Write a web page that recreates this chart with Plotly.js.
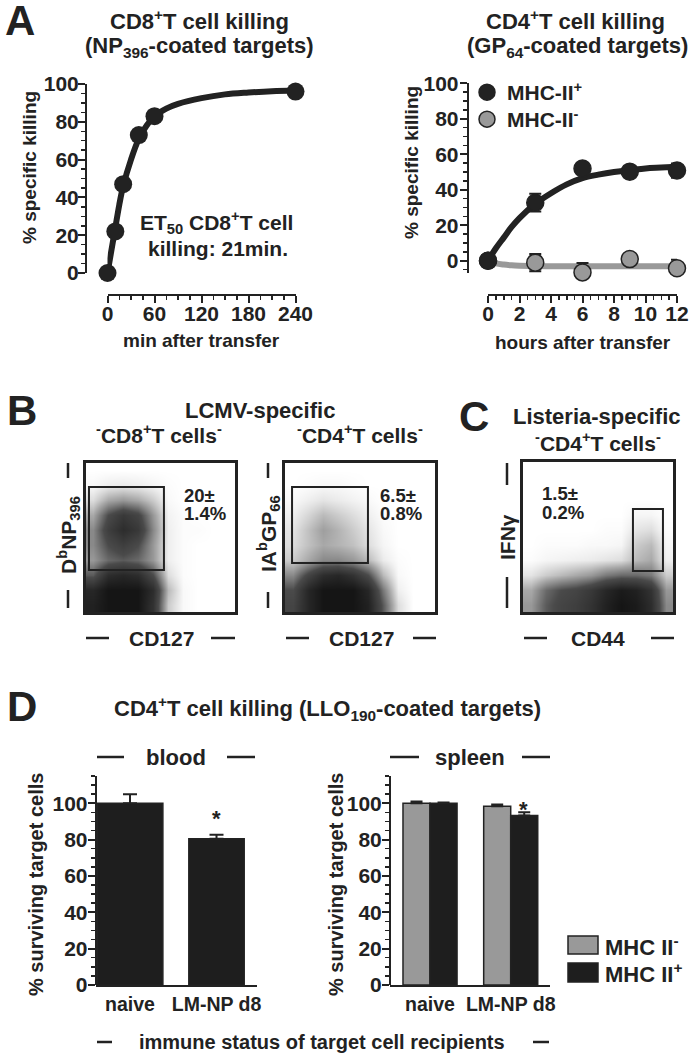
<!DOCTYPE html>
<html><head><meta charset="utf-8">
<script src="https://cdn.plot.ly/plotly-3.0.1.min.js"></script>
<style>html,body{margin:0;padding:0;background:#fff}#chart{width:692px;height:1057px}</style>
</head><body><div id="chart"></div>
<script>
// ---------------- DATA ----------------
// Panel A (left): CD8+ T cell killing, NP396-coated targets
const cd8Minutes = [0, 10, 20, 40, 60, 240];
const cd8Killing = [0, 22, 47, 73, 83, 96];
const cd8FitMinutes = [0, 5, 10, 15, 20, 30, 40, 50, 60, 75, 90, 120, 150, 180, 210, 240];
const cd8FitKilling = [0, 12, 24, 36, 46, 60, 71, 78, 83, 87, 89.5, 92.5, 94.5, 95.5, 96.2, 96.5];

// Panel A (right): CD4+ T cell killing, GP64-coated targets
const cd4Hours = [0, 3, 6, 9, 12];
const mhcPosKilling = [0, 32.7, 52, 50.2, 50.8];
const mhcPosErr = [0, 5, 0, 0, 4];
const mhcNegKilling = [0, -1.1, -6.6, 0.9, -4.3];
const mhcNegErr = [0, 4.8, 5.3, 0, 4.8];
const fitHours = [0, 0.5, 1, 1.5, 2, 3, 4, 5, 6, 7, 8, 9, 10, 11, 12];
const mhcPosFit = [0, 7, 13, 19, 24, 32, 38, 43, 46.5, 48.5, 50, 51, 52, 52.5, 53];
const mhcNegFit = [0, -1.5, -2.2, -2.6, -2.8, -3, -3.1, -3.2, -3.2, -3.2, -3.2, -3.2, -3.2, -3.2, -3.2];

// Panels B/C: flow cytometry dot density (rows bottom -> top, 10 x 10 bins)
const flowBins = [0.05, 0.15, 0.25, 0.35, 0.45, 0.55, 0.65, 0.75, 0.85, 0.95];
const cd8Density = [
  [0.9, 1, 1, 1, 0.75, 0.15, 0.02, 0, 0, 0],
  [0.85, 1, 1, 1, 0.8, 0.2, 0.02, 0, 0, 0],
  [0.5, 0.8, 0.85, 0.8, 0.55, 0.1, 0.01, 0, 0, 0],
  [0.3, 0.45, 0.5, 0.45, 0.3, 0.05, 0.01, 0, 0, 0],
  [0.35, 0.55, 0.65, 0.55, 0.3, 0.05, 0.01, 0, 0, 0],
  [0.35, 0.65, 0.8, 0.7, 0.35, 0.05, 0.01, 0.01, 0, 0],
  [0.25, 0.55, 0.7, 0.6, 0.3, 0.04, 0.01, 0, 0, 0],
  [0.1, 0.25, 0.3, 0.25, 0.15, 0.02, 0, 0, 0, 0],
  [0.02, 0.05, 0.06, 0.05, 0.03, 0.01, 0, 0, 0, 0],
  [0, 0, 0, 0, 0, 0, 0, 0, 0, 0]
];
const cd4Density = [
  [0.6, 0.85, 1, 1, 1, 0.9, 0.5, 0.1, 0, 0],
  [0.55, 0.85, 1, 1, 1, 0.85, 0.4, 0.05, 0, 0],
  [0.35, 0.6, 0.8, 0.85, 0.75, 0.55, 0.2, 0.02, 0, 0],
  [0.15, 0.25, 0.35, 0.35, 0.3, 0.2, 0.06, 0.01, 0, 0],
  [0.1, 0.18, 0.25, 0.22, 0.18, 0.1, 0.03, 0, 0, 0],
  [0.08, 0.18, 0.28, 0.22, 0.15, 0.08, 0.02, 0, 0, 0],
  [0.05, 0.12, 0.2, 0.15, 0.1, 0.05, 0.01, 0, 0, 0],
  [0.02, 0.05, 0.08, 0.06, 0.04, 0.02, 0, 0, 0, 0],
  [0, 0.01, 0.02, 0.02, 0.01, 0, 0, 0, 0, 0],
  [0, 0, 0, 0, 0, 0, 0, 0, 0, 0]
];
const listeriaDensity = [
  [0.3, 0.5, 0.6, 0.65, 0.75, 0.9, 1, 0.95, 0.8, 0.35],
  [0.25, 0.45, 0.55, 0.6, 0.7, 0.85, 0.95, 0.9, 0.75, 0.3],
  [0.08, 0.15, 0.2, 0.25, 0.3, 0.4, 0.45, 0.45, 0.4, 0.15],
  [0.01, 0.03, 0.04, 0.05, 0.06, 0.08, 0.1, 0.2, 0.25, 0.05],
  [0, 0.01, 0.01, 0.01, 0.02, 0.02, 0.03, 0.15, 0.2, 0.03],
  [0, 0, 0, 0, 0, 0.01, 0.01, 0.08, 0.1, 0.01],
  [0, 0, 0, 0, 0, 0, 0, 0.03, 0.03, 0],
  [0, 0, 0, 0, 0, 0, 0, 0, 0, 0],
  [0, 0, 0, 0, 0, 0, 0, 0, 0, 0],
  [0, 0, 0, 0, 0, 0, 0, 0, 0, 0]
];
// gates [x0, x1, y0, y1] in fraction of each plot
const cd8Gate = [0.02, 0.523, 0.282, 0.839];
const cd4Gate = [0.047, 0.553, 0.329, 0.839];
const listeriaGate = [0.733, 0.933, 0.273, 0.687];
const cd8Percent = ['20±', '1.4%'];
const cd4Percent = ['6.5±', '0.8%'];
const listeriaPercent = ['1.5±', '0.2%'];

// Panel D: % surviving target cells
const barCategories = ['naive', 'LM-NP d8'];
const bloodSurviving = [100, 80.5];
const bloodErr = [5, 2.2];
const spleenMhcNeg = [100, 98.4];
const spleenMhcNegErr = [1, 0.9];
const spleenMhcPos = [100, 93.2];
const spleenMhcPosErr = [0.4, 1.8];

// ---------------- LAYOUT HELPERS ----------------
const W = 692, H = 1057;
const px = v => v / W, py = v => 1 - v / H;
const FAM = 'Liberation Sans, Arial, Helvetica, sans-serif';
const INK = '#222222';
const GREY = '#999999';
const font = (s) => ({family: FAM, size: s, color: INK, weight: 'bold'});

const axBase = {
  showgrid: false, zeroline: false, showline: true, linecolor: INK, linewidth: 2,
  ticks: 'outside', tickcolor: INK, tickwidth: 2, ticklen: 7, tickfont: font(21), fixedrange: true
};
const minorT = (d) => ({ticks: 'outside', dtick: d, ticklen: 4, tickwidth: 1.5, tickcolor: INK});
const boxAx = (dom, anchor) => ({
  domain: dom, range: [0, 1], anchor: anchor, showline: true, mirror: true, linewidth: 3,
  linecolor: INK, ticks: '', showticklabels: false, showgrid: false, zeroline: false, fixedrange: true
});

const flowScale = [[0, '#ffffff'], [0.04, '#f2f2f2'], [0.25, '#a8a8a8'], [0.55, '#4a4a4a'], [1, '#151515']];

// ---------------- TRACES ----------------
const traces = [
  // A left
  {type: 'scatter', mode: 'lines', x: cd8FitMinutes, y: cd8FitKilling, xaxis: 'x', yaxis: 'y',
   line: {color: INK, width: 6, shape: 'spline'}, showlegend: false, cliponaxis: false, hoverinfo: 'skip'},
  {type: 'scatter', mode: 'markers', x: cd8Minutes, y: cd8Killing, xaxis: 'x', yaxis: 'y',
   marker: {color: INK, size: 18}, showlegend: false, cliponaxis: false},
  // A right
  {type: 'scatter', mode: 'lines', x: fitHours, y: mhcNegFit, xaxis: 'x2', yaxis: 'y2',
   line: {color: GREY, width: 6, shape: 'spline'}, showlegend: false, cliponaxis: false, hoverinfo: 'skip'},
  {type: 'scatter', mode: 'lines', x: fitHours, y: mhcPosFit, xaxis: 'x2', yaxis: 'y2',
   line: {color: INK, width: 6, shape: 'spline'}, showlegend: false, cliponaxis: false, hoverinfo: 'skip'},
  {type: 'scatter', mode: 'markers', name: 'MHC-II<sup>-</sup>', x: cd4Hours, y: mhcNegKilling, xaxis: 'x2', yaxis: 'y2',
   marker: {color: GREY, size: 17, line: {color: INK, width: 1.5}}, legend: 'legend2', cliponaxis: false,
   error_y: {type: 'data', array: mhcNegErr, color: INK, thickness: 2, width: 6}},
  {type: 'scatter', mode: 'markers', name: 'MHC-II<sup>+</sup>', x: cd4Hours, y: mhcPosKilling, xaxis: 'x2', yaxis: 'y2',
   marker: {color: INK, size: 17, line: {color: INK, width: 1.5}}, legend: 'legend', cliponaxis: false,
   error_y: {type: 'data', array: mhcPosErr, color: INK, thickness: 2, width: 6}},
  // B / C flow plots
  {type: 'heatmap', x: flowBins, y: flowBins, z: cd8Density, xaxis: 'x3', yaxis: 'y3', zmin: 0, zmax: 1,
   colorscale: flowScale, showscale: false, zsmooth: 'best', hoverinfo: 'skip'},
  {type: 'heatmap', x: flowBins, y: flowBins, z: cd4Density, xaxis: 'x4', yaxis: 'y4', zmin: 0, zmax: 1,
   colorscale: flowScale, showscale: false, zsmooth: 'best', hoverinfo: 'skip'},
  {type: 'heatmap', x: flowBins, y: flowBins, z: listeriaDensity, xaxis: 'x5', yaxis: 'y5', zmin: 0, zmax: 1,
   colorscale: flowScale, showscale: false, zsmooth: 'best', hoverinfo: 'skip'},
  // D blood
  {type: 'bar', x: barCategories, y: bloodSurviving, xaxis: 'x6', yaxis: 'y6', width: [0.76, 0.64],
   marker: {color: '#1e1e1e', line: {color: INK, width: 1.5}}, showlegend: false,
   error_y: {type: 'data', array: bloodErr, arrayminus: [0, 0], symmetric: false, color: INK, thickness: 2, width: 7}},
  // D spleen
  {type: 'bar', name: 'MHC II-', x: barCategories, y: spleenMhcNeg, xaxis: 'x7', yaxis: 'y7',
   marker: {color: GREY, line: {color: INK, width: 1.5}}, showlegend: false,
   error_y: {type: 'data', array: spleenMhcNegErr, arrayminus: [0, 0], symmetric: false, color: INK, thickness: 2, width: 6}},
  {type: 'bar', name: 'MHC II+', x: barCategories, y: spleenMhcPos, xaxis: 'x7', yaxis: 'y7',
   marker: {color: '#1e1e1e', line: {color: INK, width: 1.5}}, showlegend: false,
   error_y: {type: 'data', array: spleenMhcPosErr, arrayminus: [0, 0], symmetric: false, color: INK, thickness: 2, width: 6}}
];

// ---------------- ANNOTATIONS ----------------
const ann = [];
function T(text, x, y, size, opts) {
  ann.push(Object.assign({text: text, x: px(x), y: py(y), xref: 'paper', yref: 'paper', showarrow: false,
    xanchor: 'center', yanchor: 'middle', font: font(size)}, opts || {}));
}
// panel letters
T('A', 20, 20, 42); T('B', 22, 410, 42); T('C', 474, 416, 42); T('D', 22, 706, 42);
// A
T('CD8<sup>+</sup>T cell killing', 199, 20, 22);
T('(NP<sub>396</sub>-coated targets)', 199, 47, 22);
T('CD4<sup>+</sup>T cell killing', 575, 20, 22);
T('(GP<sub>64</sub>-coated targets)', 577, 47, 22);
T('% specific killing', 29, 168, 19, {textangle: -90});
T('% specific killing', 411, 163, 19, {textangle: -90});
T('min after transfer', 201, 341, 19);
T('hours after transfer', 583, 342, 19);
T('ET<sub>50</sub> CD8<sup>+</sup>T cell', 216, 222, 21);
T('killing: 21min.', 218, 248, 21);
// B / C
T('LCMV-specific', 260, 410, 22);
T('<sup>-</sup>CD8<sup>+</sup>T cells<sup>-</sup>', 159, 434, 21);
T('<sup>-</sup>CD4<sup>+</sup>T cells<sup>-</sup>', 360, 434, 21);
T('Listeria-specific', 597, 416, 22);
T('<sup>-</sup>CD4<sup>+</sup>T cells<sup>-</sup>', 598, 442, 21);
T('D<sup>b</sup>NP<sub>396</sub>', 68, 535, 21, {textangle: -90});
T('IA<sup>b</sup>GP<sub>66</sub>', 268, 534, 21, {textangle: -90});
T('IFNγ', 507, 537, 21, {textangle: -90});
T('CD127', 161, 638, 21); T('CD127', 361, 638, 21); T('CD44', 598, 638, 21);
T(cd8Percent[0], 182, 495, 18.5, {xanchor: 'left'}); T(cd8Percent[1], 182, 514, 18.5, {xanchor: 'left'});
T(cd4Percent[0], 378, 495, 18.5, {xanchor: 'left'}); T(cd4Percent[1], 378, 514, 18.5, {xanchor: 'left'});
T(listeriaPercent[0], 540, 493, 18.5, {xanchor: 'left'}); T(listeriaPercent[1], 540, 512, 18.5, {xanchor: 'left'});
// D
T('CD4<sup>+</sup>T cell killing (LLO<sub>190</sub>-coated targets)', 327, 708, 22);
T('blood', 176, 757, 22);
T('spleen', 470, 757, 22);
T('% surviving target cells', 36, 885, 20, {textangle: -90});
T('% surviving target cells', 336, 885, 20, {textangle: -90});
T('immune status of target cell recipients', 322, 1042, 20);
T('*', 216, 818, 22);
T('*', 523, 809, 22);
T('MHC II<sup>-</sup>', 603, 946, 22, {xanchor: 'left'});
T('MHC II<sup>+</sup>', 603, 973, 22, {xanchor: 'left'});

// ---------------- SHAPES ----------------
const shapes = [];
const seg = (x0, y0, x1, y1, w) => shapes.push({type: 'line', xref: 'paper', yref: 'paper',
  x0: px(x0), y0: py(y0), x1: px(x1), y1: py(y1), line: {color: INK, width: w || 2.5}});
// flow y-label bars
seg(68, 463, 68, 478); seg(68, 590, 68, 608);
seg(268, 463, 268, 478); seg(268, 592, 268, 608);
seg(507, 463, 507, 485); seg(507, 577, 507, 608);
// flow x-label bars
seg(86, 638, 109, 638); seg(211, 638, 235, 638);
seg(286, 638, 309, 638); seg(413, 638, 436, 638);
seg(524, 638, 547, 638); seg(651, 638, 674, 638);
// D section bars
seg(97, 757, 124, 757); seg(227, 757, 255, 757);
seg(390, 757, 419, 757); seg(522, 757, 550, 757);
seg(97, 1042, 112, 1042); seg(533, 1042, 549, 1042);
// gates
[[cd8Gate, 'x3', 'y3'], [cd4Gate, 'x4', 'y4'], [listeriaGate, 'x5', 'y5']].forEach(([g, xr, yr]) => {
  shapes.push({type: 'rect', xref: xr, yref: yr, x0: g[0], x1: g[1], y0: g[2], y1: g[3],
    line: {color: INK, width: 2}, fillcolor: 'rgba(0,0,0,0)'});
});
// D legend swatches
shapes.push({type: 'rect', xref: 'paper', yref: 'paper', x0: px(568), x1: px(598), y0: py(954), y1: py(936),
  fillcolor: GREY, line: {color: INK, width: 1.5}});
shapes.push({type: 'rect', xref: 'paper', yref: 'paper', x0: px(568), x1: px(598), y0: py(982), y1: py(963),
  fillcolor: '#1e1e1e', line: {color: INK, width: 1.5}});

// ---------------- LAYOUT ----------------
const legBase = {xanchor: 'left', yanchor: 'top', font: font(21), bgcolor: 'rgba(0,0,0,0)', itemsizing: 'trace'};
const layout = {
  width: W, height: H, margin: {l: 0, r: 0, t: 0, b: 0},
  paper_bgcolor: '#ffffff', plot_bgcolor: 'rgba(0,0,0,0)',
  font: font(20), barmode: 'group', bargap: 0.33, bargroupgap: 0,
  showlegend: true,
  legend: Object.assign({x: px(467), y: py(72)}, legBase),
  legend2: Object.assign({x: px(467), y: py(99)}, legBase),
  xaxis: Object.assign({}, axBase, {domain: [px(107.5), px(295.5)], range: [0, 240], anchor: 'free',
    position: py(295), dtick: 60, tick0: 0, minor: minorT(15), ticklabelstandoff: -7}),
  yaxis: Object.assign({}, axBase, {domain: [py(273), py(84)], range: [0, 100], anchor: 'free',
    position: px(86), dtick: 20, tick0: 0, minor: minorT(5), ticklabelstandoff: -5}),
  xaxis2: Object.assign({}, axBase, {domain: [px(488), px(677)], range: [0, 12], anchor: 'free',
    position: py(295), dtick: 2, tick0: 0, minor: minorT(0.5), ticklabelstandoff: -7}),
  yaxis2: Object.assign({}, axBase, {domain: [py(273.1), py(83.3)], range: [-7, 100], anchor: 'free',
    position: px(467.7), dtick: 20, tick0: 0, minor: minorT(5), ticklabelstandoff: -3}),
  xaxis3: boxAx([px(86), px(235)], 'y3'), yaxis3: boxAx([py(612), py(463)], 'x3'),
  xaxis4: boxAx([px(285), px(435)], 'y4'), yaxis4: boxAx([py(612), py(463)], 'x4'),
  xaxis5: boxAx([px(523), px(673)], 'y5'), yaxis5: boxAx([py(612), py(462)], 'x5'),
  xaxis6: Object.assign({}, axBase, {domain: [px(96), px(257)], type: 'category', range: [-0.393, 1.468],
    anchor: 'y6', ticks: '', ticklabelstandoff: 1, tickfont: font(19.5)}),
  yaxis6: Object.assign({}, axBase, {domain: [py(985), py(776)], range: [0, 115], anchor: 'free',
    position: px(95.7), dtick: 20, tick0: 0, minor: minorT(5), ticklabelstandoff: -4}),
  xaxis7: Object.assign({}, axBase, {domain: [px(390), px(550)], type: 'category', range: [-0.496, 1.487],
    anchor: 'y7', ticks: '', ticklabelstandoff: 1, tickfont: font(19.5)}),
  yaxis7: Object.assign({}, axBase, {domain: [py(985), py(776)], range: [0, 115], anchor: 'free',
    position: px(390), dtick: 20, tick0: 0, minor: minorT(5), ticklabelstandoff: -4}),
  annotations: ann, shapes: shapes
};

Plotly.newPlot('chart', traces, layout, {displayModeBar: false, staticPlot: true});
</script>
</body></html>
